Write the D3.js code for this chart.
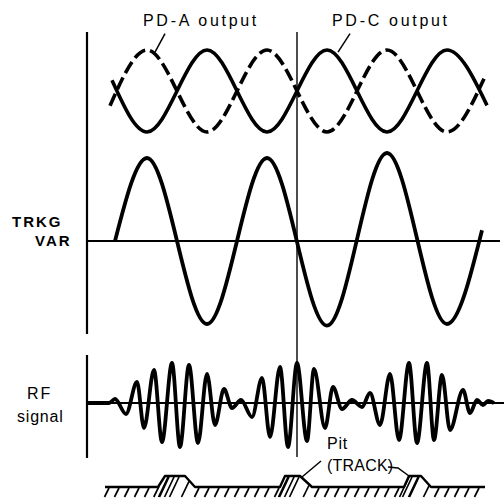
<!DOCTYPE html>
<html>
<head>
<meta charset="utf-8">
<script src="https://cdn.jsdelivr.net/npm/d3@7"></script>
<style>
  body { margin: 0; background: #fff; }
  svg { display: block; }
  text { font-family: "Liberation Sans", Arial, sans-serif; fill: #000; }
</style>
</head>
<body>
<div id="chart"></div>
<script>
// x is tracking phase in degrees (360 = one track pitch)
const pdAPhase = [-21, 90, 270, 450, 630, 810, 990, 1101];
const pdA = [-0.36, 1, -1, 1, -1, 1, -1, 0.3];
const pdCPhase = [-15, 90, 270, 450, 630, 810, 990, 1110];
const pdC = [0.26, -1, 1, -1, 1, -1, 1, -0.35];

const trkgPhase = [-6, 90, 270, 450, 630, 810, 990, 1095];
const trkgVar = [0, 1, -1, 1, -1.02, 1.06, -1, 0.13];

// RF signal extrema (phase, amplitude)
const rfPhase = [-90, -24, -6, 27, 60, 81, 111, 135, 165, 189, 216, 243, 270, 294, 321, 345, 372, 405,
  435, 459, 489, 513, 540, 570, 591, 624, 648, 675, 705, 735, 759, 789, 819, 846, 876, 900, 930, 951,
  975, 999, 1038, 1059, 1080, 1098, 1113, 1131];
const rfAmp = [0, 0, 4, -11, 21, -25, 33, -39, 40, -44, 38, -40, 29, -22, 14, -5, 3, -14,
  25, -34, 36, -44, 40, -38, 34, -25, 16, -6, 3, -4, 10, -22, 29, -37, 40, -40, 40, -37,
  28, -27, 13, -10, 3, -2, 2, 0];

// pits on the track
const pitStart = [123, 489, 861];
const pitTopStart = [144, 504, 876];
const pitTopEnd = [204, 549, 912];
const pitEnd = [234, 585, 942];
const trackStart = -36, trackEnd = 1104;

const W = 504, H = 501;
const svg = d3.select('#chart').append('svg')
  .attr('width', W)
  .attr('height', H);

const x = d3.scaleLinear().domain([-90, 1170]).range([87, 507]);
const yPd = d3.scaleLinear().domain([-1, 1]).range([132, 50]);
const yTrkg = d3.scaleLinear().domain([-1, 1]).range([324, 158]);
const yRf = d3.scaleLinear().domain([-45, 45]).range([448, 358]);
const yTrack = d3.scaleLinear().domain([0, 1]).range([487, 476]);

const wave = ys => d3.line()
  .x(d => x(d[0]))
  .y(d => ys(d[1]))
  .curve(d3.curveMonotoneX);

function vline(xv, y1, y2, w) {
  svg.append('line')
    .attr('x1', xv).attr('x2', xv)
    .attr('y1', y1).attr('y2', y2)
    .attr('stroke', '#000').attr('stroke-width', w);
}
function hline(x1, x2, yv, w) {
  svg.append('line')
    .attr('x1', x1).attr('x2', x2)
    .attr('y1', yv).attr('y2', yv)
    .attr('stroke', '#000').attr('stroke-width', w);
}

// frames / zero axes
vline(x(-90), 32, 334, 2.2);
hline(x(-90), x(1149), yTrkg(0), 2);
vline(x(-90), 355, 458, 2.2);
hline(x(-90), x(1170), yRf(0), 2);
vline(x(540), 32, 457, 1.4);

// PD outputs
svg.append('path')
  .attr('d', wave(yPd)(d3.zip(pdAPhase, pdA)))
  .attr('fill', 'none').attr('stroke', '#000')
  .attr('stroke-width', 3.6)
  .attr('stroke-dasharray', '13 5');

svg.append('path')
  .attr('d', wave(yPd)(d3.zip(pdCPhase, pdC)))
  .attr('fill', 'none').attr('stroke', '#000')
  .attr('stroke-width', 3.6);

// tracking error
svg.append('path')
  .attr('d', wave(yTrkg)(d3.zip(trkgPhase, trkgVar)))
  .attr('fill', 'none').attr('stroke', '#000')
  .attr('stroke-width', 3.8)
  .attr('stroke-linejoin', 'round');

// RF
svg.append('path')
  .attr('d', wave(yRf)(d3.zip(rfPhase, rfAmp)))
  .attr('fill', 'none').attr('stroke', '#000')
  .attr('stroke-width', 3.8);

// track profile
let prof = [[trackStart, 0]];
pitStart.forEach((s, i) => {
  prof.push([s, 0], [pitTopStart[i], 1], [pitTopEnd[i], 1], [pitEnd[i], 0]);
});
prof.push([trackEnd, 0]);

svg.append('path')
  .attr('d', d3.line().x(d => x(d[0])).y(d => yTrack(d[1]))(prof))
  .attr('fill', 'none').attr('stroke', '#000')
  .attr('stroke-width', 2.4)
  .attr('stroke-linejoin', 'round');

// hatching under the track
const profX = prof.map(d => x(d[0]));
const profY = prof.map(d => yTrack(d[1]));
function surfaceY(px) {
  for (let i = 1; i < profX.length; i++) {
    if (px <= profX[i]) {
      const t = (px - profX[i - 1]) / (profX[i] - profX[i - 1] || 1);
      return profY[i - 1] + t * (profY[i] - profY[i - 1]);
    }
  }
  return profY[profY.length - 1];
}
const hatchBottom = 497;
let hatchX = d3.range(x(trackStart) + 4, x(trackEnd), 10);
pitStart.forEach((s, i) => {
  hatchX.push(x(pitTopStart[i]) + 3, x(pitTopStart[i]) + 9);
});
svg.append('g').selectAll('line')
  .data(hatchX)
  .join('line')
  .attr('x1', d => d)
  .attr('y1', d => surfaceY(d) + 1)
  .attr('x2', d => d - 0.45 * (hatchBottom - surfaceY(d)))
  .attr('y2', hatchBottom)
  .attr('stroke', '#000')
  .attr('stroke-width', 1.7);

// labels
const label = (tx, ty, s, size, opts = {}) => svg.append('text')
  .attr('x', tx).attr('y', ty)
  .attr('font-size', size)
  .attr('font-weight', opts.bold ? 'bold' : 'normal')
  .attr('letter-spacing', opts.ls || 0)
  .attr('text-anchor', opts.anchor || 'start')
  .text(s);

label(143, 26, 'PD-A output', 16, { ls: 2.7 });
label(332, 26, 'PD-C output', 16, { ls: 2.7 });
label(12, 227, 'TRKG', 15, { bold: true, ls: 2 });
label(35, 246, 'VAR', 15, { bold: true, ls: 2 });
label(27, 399, 'RF', 16, { ls: 2 });
label(17, 422, 'signal', 16, { ls: 0.8 });
label(327, 449, 'Pit', 16, { ls: 0.8 });
label(327, 471, '(TRACK)', 16, { ls: 0.2 });

// leaders
const leader = pts => svg.append('path')
  .attr('d', d3.line()(pts))
  .attr('fill', 'none').attr('stroke', '#000')
  .attr('stroke-width', 1.5);

leader([[x(114), yPd(0.95)], [x(144), yPd(1.4)]]);
leader([[x(663), yPd(0.95)], [x(699), yPd(1.4)]]);
leader([[321, 461], [x(pitTopEnd[1]) + 2, yTrack(1) + 1]]);
leader([[388, 467], [398, 468], [x(pitTopStart[2]), yTrack(1)]]);
</script>
</body>
</html>
